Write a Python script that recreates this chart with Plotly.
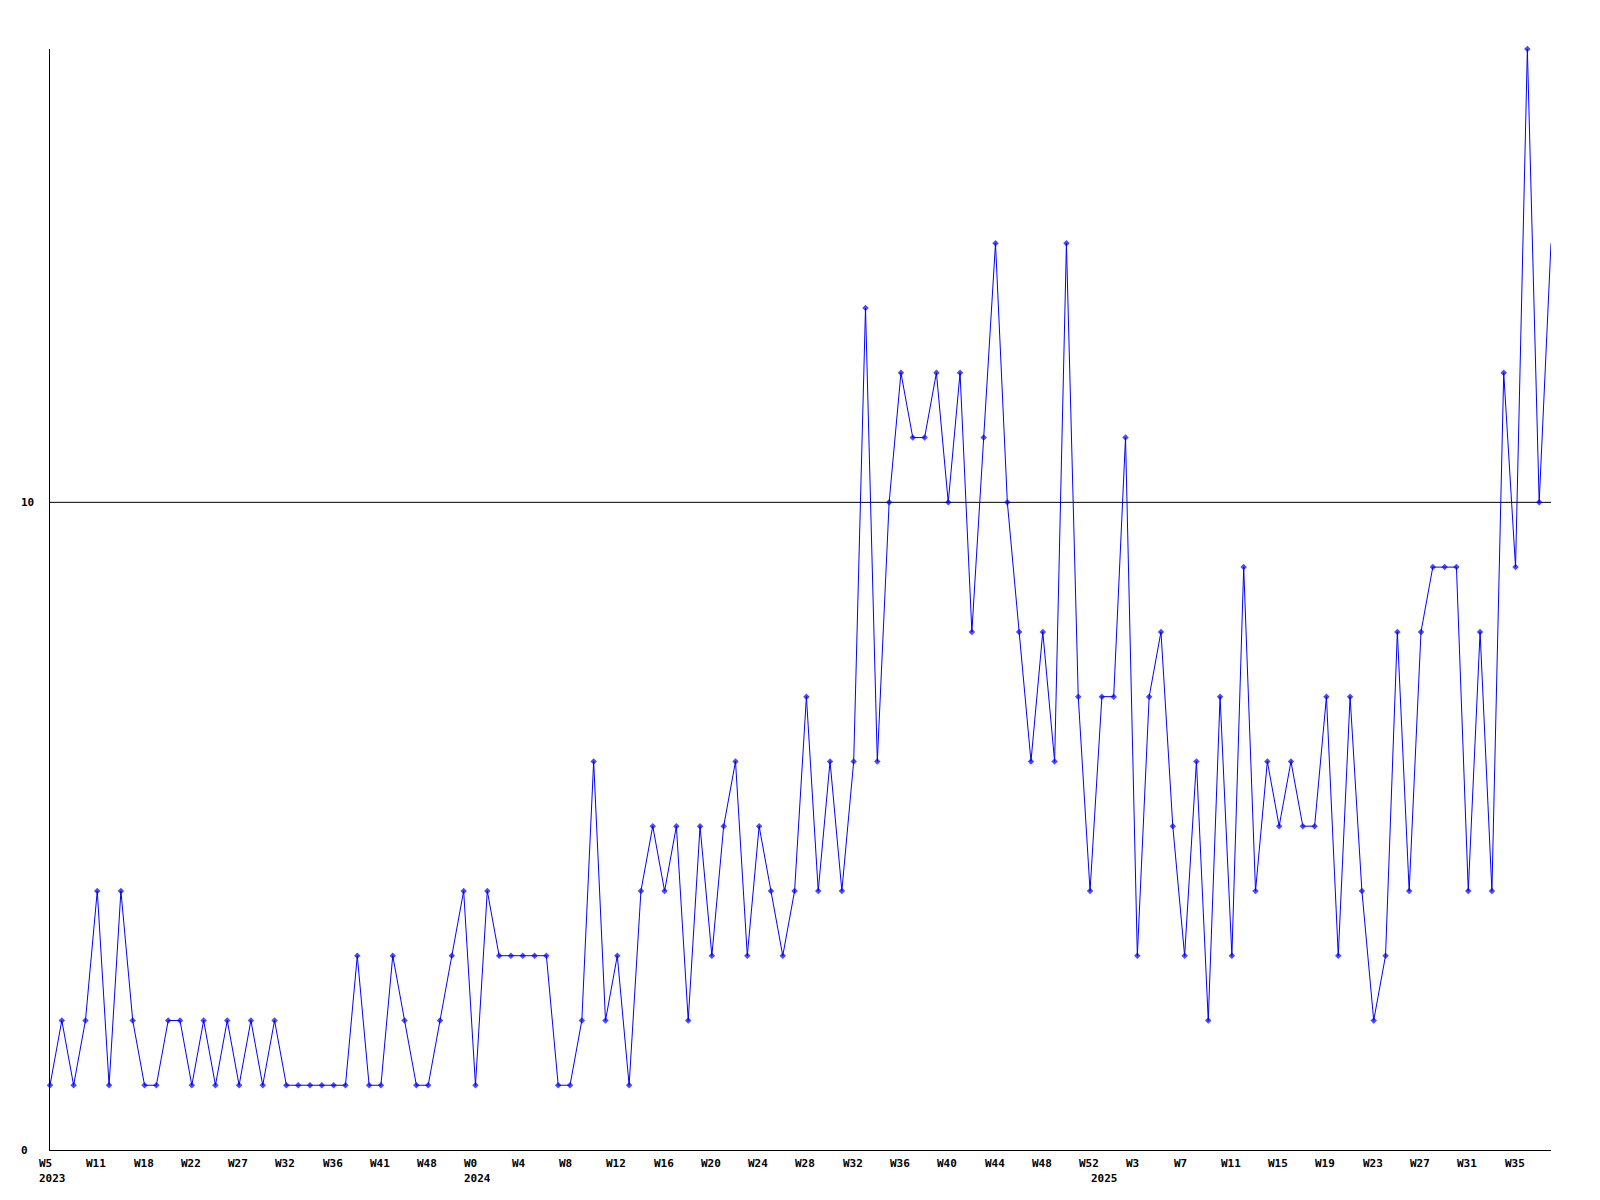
import plotly.graph_objects as go

# Weekly values (one per week, 128 points)
values = [
    1, 2, 1, 2, 4, 1, 4, 2, 1, 1,
    2, 2, 1, 2, 1, 2, 1, 2, 1, 2,
    1, 1, 1, 1, 1, 1, 3, 1, 1, 3,
    2, 1, 1, 2, 3, 4, 1, 4, 3, 3,
    3, 3, 3, 1, 1, 2, 6, 2, 3, 1,
    4, 5, 4, 5, 2, 5, 3, 5, 6, 3,
    5, 4, 3, 4, 7, 4, 6, 4, 6, 13,
    6, 10, 12, 11, 11, 12, 10, 12, 8, 11,
    14, 10, 8, 6, 8, 6, 14, 7, 4, 7,
    7, 11, 3, 7, 8, 5, 3, 6, 2, 7,
    3, 9, 4, 6, 5, 6, 5, 5, 7, 3,
    7, 4, 2, 3, 8, 4, 8, 9, 9, 9,
    4, 8, 4, 12, 9, 17, 10, 14,
]

# Week tick labels, one every 4th point
week_labels = ["W5", "W11", "W18", "W22", "W27", "W32", "W36", "W41", "W48",
               "W0", "W4", "W8", "W12", "W16", "W20", "W24", "W28", "W32",
               "W36", "W40", "W44", "W48", "W52",
               "W3", "W7", "W11", "W15", "W19", "W23", "W27", "W31", "W35"]
label_step = 4

# Year labels and the point index where each year starts
year_labels = ["2023", "2024", "2025"]
year_start_index = [0, 36, 89]

y_tick_values = [0, 10]
y_max = 17

x = list(range(len(values)))
marker_sizes = [5] * (len(values) - 1) + [0]

FONT = dict(family="DejaVu Sans Mono", size=11, color="black", weight="bold")

fig = go.Figure()
fig.add_trace(go.Scatter(
    x=x, y=values, mode="lines+markers",
    line=dict(color="#0000ff", width=1),
    marker=dict(color="#0000ff", size=marker_sizes, symbol="diamond",
                line=dict(width=0)),
    cliponaxis=False,
    hoverinfo="x+y",
))

# horizontal reference line at 10
fig.add_shape(type="line", xref="paper", x0=0, x1=1, yref="y", y0=10, y1=10,
              line=dict(color="black", width=1), layer="below")

annotations = []
for i, lab in enumerate(week_labels):
    annotations.append(dict(
        x=i * label_step, y=0, xref="x", yref="paper",
        text=lab, showarrow=False, xanchor="left", yanchor="top",
        xshift=-13, yshift=-5, font=FONT, align="left"))
for lab, idx in zip(year_labels, year_start_index):
    annotations.append(dict(
        x=idx, y=0, xref="x", yref="paper",
        text=lab, showarrow=False, xanchor="left", yanchor="top",
        xshift=-13, yshift=-20, font=FONT, align="left"))
for v in y_tick_values:
    annotations.append(dict(
        x=0, y=v, xref="paper", yref="y",
        text=str(v), showarrow=False, xanchor="left", yanchor="middle",
        xshift=-31, font=FONT))

fig.update_layout(
    width=1592, height=1192,
    margin=dict(l=42, r=49, t=41, b=50),
    paper_bgcolor="white", plot_bgcolor="white",
    showlegend=False,
    annotations=annotations,
    xaxis=dict(range=[0, len(values) - 1], showgrid=False, zeroline=False,
               showline=True, linecolor="black", linewidth=1,
               showticklabels=False, ticks=""),
    yaxis=dict(range=[0, y_max], showgrid=False, zeroline=False,
               showline=True, linecolor="black", linewidth=1,
               showticklabels=False, ticks=""),
)

fig.write_html("out.html")
